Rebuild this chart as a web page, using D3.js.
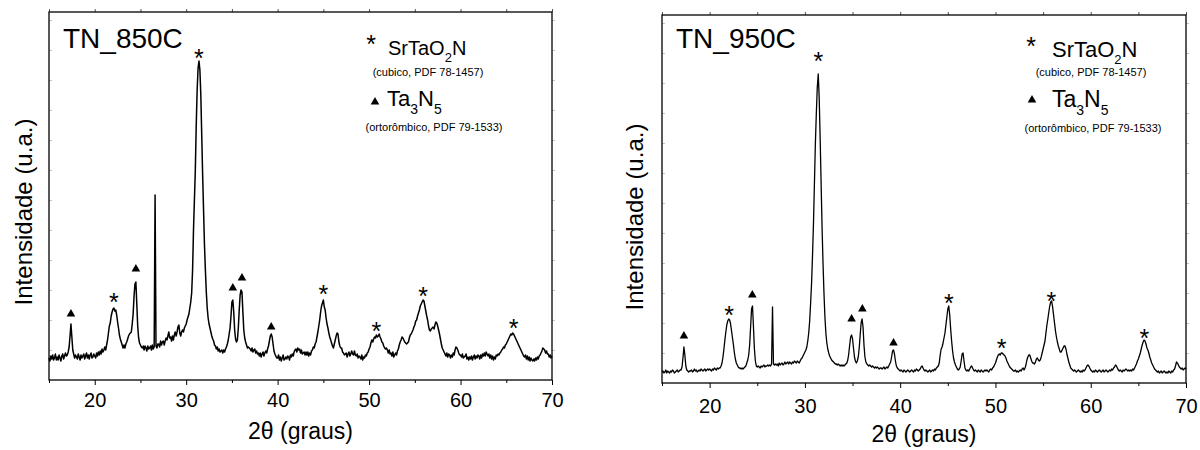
<!DOCTYPE html>
<html>
<head>
<meta charset="utf-8">
<script src="https://cdn.jsdelivr.net/npm/d3@7"></script>
<style>
  body { margin: 0; background: #fff; }
  svg { display: block; font-family: "Liberation Sans", Arial, sans-serif; }
</style>
</head>
<body>
<svg id="chart" width="1200" height="450"></svg>
<script>
// scan grid: 15.0 .. 70.0 deg, step 0.1
const thetaStart = 15;
const thetaStep = 0.1;

// TN_850C, counts (one row per degree)
const counts850 = [
  220,190,240,210,250,200,220,260,200,230, // 15
  200,250,220,190,240,260,210,240,270,240, // 16
  250,280,330,440,560,430,300,260,220,250, // 17
  230,210,260,230,200,250,220,240,260,210, // 18
  240,270,220,250,210,250,270,220,230,260, // 19
  240,220,270,240,280,250,290,260,310,280, // 20
  300,330,300,350,400,470,540,570,640,680, // 21
  710,720,690,700,650,580,520,450,410,380, // 22
  350,320,350,320,360,380,410,440,460,470, // 23
  480,560,660,840,960,980,760,540,420,370, // 24
  350,330,320,340,300,340,320,290,340,310, // 25
  320,340,300,350,310,330,1850,340,320,360, // 26
  360,330,390,350,380,390,350,390,420,400, // 27
  440,480,420,430,390,440,400,450,480,440, // 28
  480,530,550,470,440,480,500,480,520,540, // 29
  560,600,630,660,720,780,870,1100,1500,1800, // 30
  2100,2550,2900,3120,3190,3100,2850,2450,2050,1700, // 31
  1350,1100,880,720,620,560,520,480,440,410, // 32
  390,350,340,310,330,290,310,280,290,300, // 33
  270,300,280,310,330,360,400,460,520,640, // 34
  780,800,680,500,410,380,400,520,700,850, // 35
  900,880,680,500,420,380,350,320,330,320, // 36
  310,290,320,280,300,310,270,290,260,270, // 37
  240,270,230,260,280,240,270,290,270,310, // 38
  340,390,440,460,430,360,290,260,240,220, // 39
  220,250,200,230,190,220,250,200,210,230, // 40
  210,240,230,200,250,230,260,240,280,300, // 41
  310,280,320,300,310,270,300,260,270,280, // 42
  250,280,250,280,240,270,250,290,300,330, // 43
  320,360,380,430,480,540,600,680,740,770, // 44
  800,730,700,620,560,520,470,430,400,370, // 45
  340,320,360,400,440,470,460,380,340,320, // 46
  320,280,270,250,260,270,230,260,280,240, // 47
  260,290,260,250,290,250,240,260,220,240, // 48
  230,210,250,200,230,220,250,240,270,280, // 49
  310,330,370,400,380,410,430,420,450,430, // 50
  440,460,430,410,380,370,340,320,310,320, // 51
  300,270,300,260,270,240,280,230,250,270, // 52
  250,290,310,350,380,400,430,420,400,380, // 53
  370,360,370,380,420,450,460,480,500,530, // 54
  550,590,600,640,670,700,740,760,780,800, // 55
  790,740,690,640,600,540,500,490,510,520, // 56
  530,510,550,580,570,540,500,460,410,360, // 57
  320,300,280,260,240,270,230,260,250,220, // 58
  250,230,270,250,300,330,320,300,270,250, // 59
  250,230,260,220,230,240,260,210,230,200, // 60
  230,210,240,200,230,250,210,240,220,250, // 61
  240,210,250,220,260,240,270,240,280,260, // 62
  240,260,220,250,210,240,200,230,210,250, // 63
  240,260,250,270,280,300,310,330,320,350, // 64
  360,380,400,420,440,460,450,470,460,440, // 65
  420,400,380,360,340,320,300,280,260,240, // 66
  230,250,210,240,200,230,190,220,200,190, // 67
  210,190,220,200,230,210,240,250,270,290, // 68
  320,310,300,270,290,260,260,230,250,220, // 69
  240
];

// TN_950C
const counts950 = [
  110,120,100,110,130,100,120,110,100,120, // 15
  110,130,120,100,110,120,130,110,120,130, // 16
  130,160,250,360,280,170,130,120,110,120, // 17
  120,130,110,120,140,120,130,110,120,130, // 18
  120,140,130,120,130,140,120,130,140,130, // 19
  140,130,120,140,130,150,140,130,150,140, // 20
  150,150,170,200,260,340,430,510,580,620, // 21
  640,630,590,520,450,380,300,240,200,180, // 22
  160,150,150,140,150,140,150,160,170,200, // 23
  230,280,380,560,740,770,560,340,220,170, // 24
  160,170,160,150,170,160,170,180,160,170, // 25
  170,180,170,180,170,190,760,190,180,190, // 26
  180,190,170,200,180,190,200,180,190,210, // 27
  190,200,210,190,210,200,190,210,200,220, // 28
  210,200,220,210,200,220,240,250,270,290, // 29
  310,330,360,420,500,620,800,1000,1280,1600, // 30
  2000,2400,2700,2960,3090,2850,2450,2000,1560,1200, // 31
  900,660,500,400,340,300,270,250,230,220, // 32
  210,200,190,190,180,190,180,170,180,170, // 33
  180,170,180,190,200,230,290,380,460,480, // 34
  440,350,260,220,200,220,260,350,480,600, // 35
  640,560,380,260,210,190,180,170,180,170, // 36
  160,170,160,150,160,150,160,150,140,150, // 37
  150,140,150,160,140,150,160,150,170,190, // 38
  210,260,320,330,290,220,170,150,140,130, // 39
  120,130,120,110,130,120,110,120,130,120, // 40
  110,120,130,120,110,130,120,140,130,120, // 41
  130,140,160,170,150,130,120,130,120,110, // 42
  120,130,110,120,130,120,140,130,150,160, // 43
  170,200,280,340,360,400,450,500,580,660, // 44
  740,770,680,540,420,320,250,210,180,160, // 45
  140,130,140,160,220,290,300,220,150,130, // 46
  120,130,120,140,160,170,150,130,120,130, // 47
  120,110,130,120,110,130,120,110,120,130, // 48
  120,130,120,110,130,140,130,150,160,180, // 49
  200,230,260,280,290,280,300,300,290,280, // 50
  270,250,220,200,180,160,150,140,130,120, // 51
  120,130,110,120,110,120,130,120,140,150, // 52
  130,150,180,230,260,280,280,250,220,200, // 53
  200,190,210,240,250,230,220,230,260,300, // 54
  340,380,420,500,580,640,710,770,810,820, // 55
  760,680,600,520,460,410,370,340,310,310, // 56
  330,350,370,370,340,290,250,210,180,150, // 57
  140,130,120,130,120,110,120,130,120,110, // 58
  120,110,130,120,130,150,170,180,170,150, // 59
  130,120,110,120,110,130,120,110,120,130, // 60
  120,110,120,130,110,120,130,120,110,120, // 61
  130,120,140,130,150,160,180,170,150,130, // 62
  120,130,120,110,130,120,130,140,130,120, // 63
  130,120,130,120,140,130,150,170,190,220, // 64
  240,270,300,340,380,410,430,420,390,350, // 65
  330,300,260,230,200,180,160,140,130,120, // 66
  110,120,100,110,120,100,110,120,110,100, // 67
  110,100,120,110,100,120,110,130,140,170, // 68
  210,200,180,160,150,140,150,130,140,150, // 69
  140
];

// phase marks [2theta, counts]
const stars850 = [[22.1, 830], [31.4, 3270], [45.0, 910], [50.8, 540], [55.9, 890], [65.8, 570]];
const tris850 = [[17.4, 660], [24.5, 1110], [35.1, 920], [36.1, 1020], [39.3, 530]];
const stars950 = [[22.05, 730], [31.4, 3270], [45.1, 850], [50.65, 400], [55.86, 870], [65.63, 500]];
const tris950 = [[17.3, 470], [24.48, 880], [34.9, 640], [36.03, 740], [39.3, 400]];

const xMajor = [20, 30, 40, 50, 60, 70];
const xMinor = [15, 25, 35, 45, 55, 65];
const yTicks = [300, 600, 900, 1200, 1500, 1800, 2100, 2400, 2700, 3000, 3300, 3600];
const countMax = 3680;

const panels = [
  {
    title: "TN_850C", counts: counts850, stars: stars850, tris: tris850, lw: 1.5,
    left: 49, right: 552, top: 12, bottom: 380, pad: 8, xlabY: 439, ylabX: 32, ylabY: 212,
    leg: { star: [371, 39], s1: [388, 55, 20], c1: [428, 76], tri: [375, 102], s2: [387, 106, 22], c2: [434, 131] }
  },
  {
    title: "TN_950C", counts: counts950, stars: stars950, tris: tris950, lw: 1.3,
    left: 662, right: 1186, top: 15, bottom: 383, pad: 11, xlabY: 442, ylabX: 643, ylabY: 217,
    leg: { star: [1031, 41], s1: [1052, 57, 22], c1: [1091, 76], tri: [1032, 100], s2: [1052, 107, 23], c2: [1093, 132] }
  }
];

const starSize = 25; // px, "*" glyph
const starLift = 0.57 * starSize; // glyph centre above baseline

const svg = d3.select("#chart");

panels.forEach(p => {
  const x = d3.scaleLinear().domain([15, 70]).range([p.left, p.right]);
  const y = d3.scaleLinear().domain([0, countMax]).range([p.bottom, p.top]);
  const g = svg.append("g");

  // bottom axis, major + minor
  const bottom = g.append("g").attr("transform", "translate(0," + p.bottom + ")");
  bottom.call(d3.axisBottom(x).tickValues(xMajor).tickSize(5).tickPadding(p.pad).tickFormat(d3.format("d")));
  bottom.append("g").call(d3.axisBottom(x).tickValues(xMinor).tickSize(3).tickFormat(""));
  bottom.selectAll("text").style("font-size", "20px").attr("fill", "#000");

  // top mirror ticks
  const top = g.append("g").attr("transform", "translate(0," + p.top + ")");
  top.call(d3.axisTop(x).tickValues(xMajor.concat(xMinor)).tickSize(3).tickFormat(""));
  top.selectAll("line").attr("stroke", "#555");

  // y ticks (no labels), faint
  const yl = g.append("g").attr("transform", "translate(" + p.left + ",0)");
  yl.call(d3.axisRight(y).tickValues(yTicks).tickSize(3).tickFormat(""));
  const yr = g.append("g").attr("transform", "translate(" + p.right + ",0)");
  yr.call(d3.axisRight(y).tickValues(yTicks).tickSize(3).tickFormat(""));
  [yl, yr].forEach(a => a.selectAll("line").attr("stroke", "#aaa").attr("stroke-width", 0.7));

  g.selectAll(".domain").remove();

  // frame
  g.append("rect")
    .attr("x", p.left).attr("y", p.top)
    .attr("width", p.right - p.left).attr("height", p.bottom - p.top)
    .attr("fill", "none").attr("stroke", "#000").attr("stroke-width", 1.3);

  // pattern
  const line = d3.line()
    .x((d, i) => x(thetaStart + i * thetaStep))
    .y(d => y(d));
  g.append("path")
    .datum(p.counts)
    .attr("d", line)
    .attr("fill", "none")
    .attr("stroke", "#000")
    .attr("stroke-width", p.lw)
    .attr("stroke-linejoin", "round");

  // phase marks
  g.selectAll(".star").data(p.stars).enter().append("text")
    .attr("x", d => x(d[0]))
    .attr("y", d => y(d[1]) + starLift)
    .attr("text-anchor", "middle")
    .style("font-size", starSize + "px")
    .text("*");
  g.selectAll(".tri").data(p.tris).enter().append("path")
    .attr("d", d3.symbol(d3.symbolTriangle, 32))
    .attr("transform", d => "translate(" + x(d[0]) + "," + y(d[1]) + ")")
    .attr("fill", "#000");

  // title
  g.append("text").attr("x", p.left + 14).attr("y", 48)
    .style("font-size", "28px").text(p.title);

  // axis titles
  g.append("text")
    .attr("x", (p.left + p.right) / 2).attr("y", p.xlabY)
    .attr("text-anchor", "middle").style("font-size", "23px")
    .text("2θ (graus)");
  g.append("text")
    .attr("transform", "translate(" + p.ylabX + "," + p.ylabY + ") rotate(-90)")
    .attr("text-anchor", "middle").style("font-size", "24px")
    .text("Intensidade (u.a.)");

  // legend
  const L = p.leg;
  g.append("text").attr("x", L.star[0]).attr("y", L.star[1] + starLift)
    .attr("text-anchor", "middle").style("font-size", starSize + "px").text("*");
  const t1 = g.append("text").attr("x", L.s1[0]).attr("y", L.s1[1]).style("font-size", L.s1[2] + "px");
  t1.append("tspan").text("SrTaO");
  t1.append("tspan").attr("dy", 7).style("font-size", "13px").text("2");
  t1.append("tspan").attr("dy", -7).text("N");
  g.append("text").attr("x", L.c1[0]).attr("y", L.c1[1])
    .attr("text-anchor", "middle").style("font-size", "11px").text("(cubico, PDF 78-1457)");
  g.append("path").attr("d", d3.symbol(d3.symbolTriangle, 32))
    .attr("transform", "translate(" + L.tri[0] + "," + L.tri[1] + ")").attr("fill", "#000");
  const t2 = g.append("text").attr("x", L.s2[0]).attr("y", L.s2[1]).style("font-size", L.s2[2] + "px");
  t2.append("tspan").text("Ta");
  t2.append("tspan").attr("dy", 8).style("font-size", "14px").text("3");
  t2.append("tspan").attr("dy", -8).text("N");
  t2.append("tspan").attr("dy", 8).style("font-size", "14px").text("5");
  g.append("text").attr("x", L.c2[0]).attr("y", L.c2[1])
    .attr("text-anchor", "middle").style("font-size", "11px").text("(ortorômbico, PDF 79-1533)");
});
</script>
</body>
</html>
